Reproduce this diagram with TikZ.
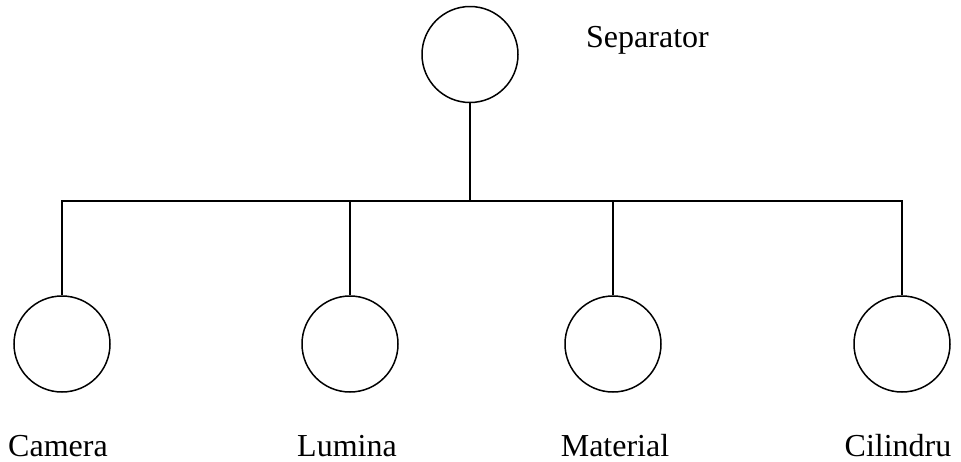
\documentclass[tikz,border=0pt]{standalone}
\usepackage{fontspec}
\setmainfont{Liberation Serif}
\begin{document}
\begin{tikzpicture}[x=1pt,y=-1pt,
  ball/.style={draw,circle,line width=1.5pt,minimum size=96pt,inner sep=0pt},
  wire/.style={line width=1.5pt},
  caption/.style={anchor=base,inner sep=0pt,font=\fontsize{32}{36}\selectfont}]
  \useasboundingbox (0,0) rectangle (961,461);

  % root and its children
  \node[ball] (root) at (470,54.5) {};
  \node[ball] (c1) at (62,344) {};
  \node[ball] (c2) at (350,344) {};
  \node[ball] (c3) at (613,344) {};
  \node[ball] (c4) at (902,344) {};

  % junction on the horizontal bus
  \coordinate (j) at (470,201);

  % connectors
  \draw[wire] (root.south) -- (j);
  \draw[wire] (c1.north) |- (j) -| (c4.north);
  \draw[wire] (c2.north) -- (c2.north |- j);
  \draw[wire] (c3.north) -- (c3.north |- j);

  % labels
  \node[caption,anchor=base west] (lroot) at (586,47.5) {Separator};
  \node[caption] (l1) at (58,456) {Camera};
  \node[caption] (l2) at (347,456) {Lumina};
  \node[caption] (l3) at (615,456) {Material};
  \node[caption] (l4) at (898,456) {Cilindru};
\end{tikzpicture}
\end{document}
